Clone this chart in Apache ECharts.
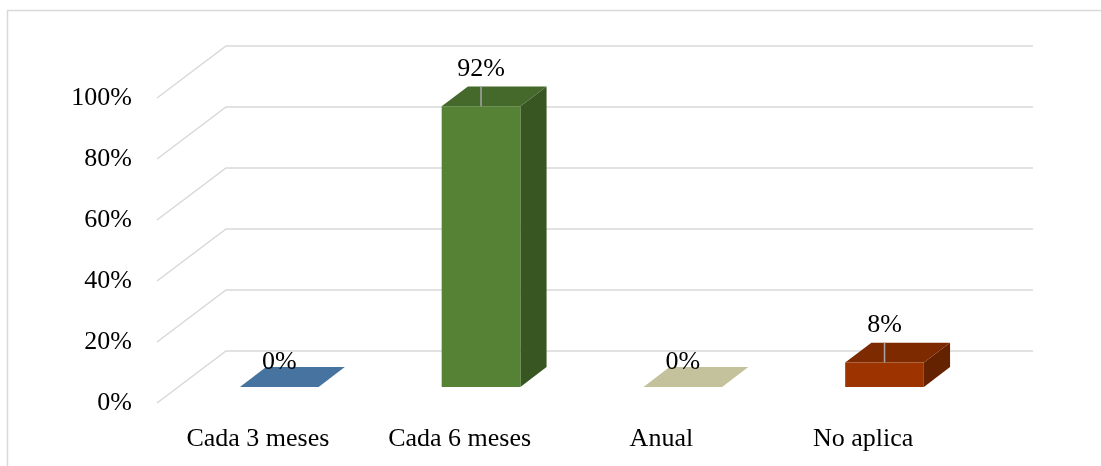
<!DOCTYPE html>
<html>
<head>
<meta charset="utf-8">
<style>
  html, body { margin: 0; padding: 0; background: #ffffff; }
  #chart { width: 1101px; height: 466px; }
</style>
<script src="https://cdn.jsdelivr.net/npm/echarts@6/dist/echarts.min.js"></script>
</head>
<body>
<div id="chart"></div>
<script>
// Frequency categories and their shares (percent)
const categories = ['Cada 3 meses', 'Cada 6 meses', 'Anual', 'No aplica'];
const percentages = [0, 92, 0, 8];
const yTicks = [0, 20, 40, 60, 80, 100];

// Face colours of each 3D column: front, top and right side
const frontColors = ['#4a78a3', '#558235', '#c6c5a1', '#9d3400'];
const topColors   = ['#4673a0', '#44692b', '#c3c29d', '#7e2a00'];
const sideColors  = ['#355a7e', '#385622', '#a3a282', '#652200'];

// 3D projection: floor depth vector (front edge -> back wall) and column placement
const DEPTH = [69, -52];
const BAR_FRONT = 0.31;   // fraction of depth where the column front face sits
const BAR_BACK = 0.69;    // fraction of depth where the column back face sits
const BAR_WIDTH = 0.39;   // fraction of category band
const FONT = '"Liberation Serif", "Times New Roman", serif';
const FONT_SIZE = 26;

const chart = echarts.init(document.getElementById('chart'), null, { renderer: 'canvas' });

function gridRender(params, api) {
  const cs = params.coordSys;
  const y = api.coord([0, api.value(0)])[1];
  const x0 = cs.x, x1 = cs.x + cs.width;
  return {
    type: 'polyline',
    shape: { points: [[x0, y], [x0 + DEPTH[0], y + DEPTH[1]], [x1 + DEPTH[0], y + DEPTH[1]]] },
    style: { stroke: '#d9d9d9', lineWidth: 1.5, fill: null },
    silent: true
  };
}

function barRender(params, api) {
  const i = api.value(0);
  const v = api.value(1);
  const base = api.coord([i, 0]);
  const top = api.coord([i, v]);
  const hw = api.size([1, 0])[0] * BAR_WIDTH / 2;
  const fx = DEPTH[0] * BAR_FRONT, fy = DEPTH[1] * BAR_FRONT;
  const dx = DEPTH[0] * (BAR_BACK - BAR_FRONT), dy = DEPTH[1] * (BAR_BACK - BAR_FRONT);
  const cx = base[0] + fx;
  const by = base[1] + fy;
  const ty = top[1] + fy;
  const L = cx - hw, R = cx + hw;
  const children = [];
  const h = by - ty;
  if (h > 0.5) {
    children.push({
      type: 'polygon',
      shape: { points: [[R, ty], [R + dx, ty + dy], [R + dx, by + dy], [R, by]] },
      style: { fill: sideColors[i] }
    });
  }
  children.push({
    type: 'polygon',
    shape: { points: [[L, ty], [R, ty], [R + dx, ty + dy], [L + dx, ty + dy]] },
    style: { fill: topColors[i] }
  });
  if (h > 0.5) {
    children.push({
      type: 'rect',
      shape: { x: L, y: ty, width: 2 * hw, height: h },
      style: { fill: frontColors[i] }
    });
    // leader line from the value label to the column top
    children.push({
      type: 'line',
      shape: { x1: cx, y1: ty - 20, x2: cx, y2: ty },
      style: { stroke: '#a6a6a6', lineWidth: 1.5 }
    });
  }
  children.push({
    type: 'text',
    style: {
      text: v + '%',
      x: cx,
      y: ty - (h > 0.5 ? 37 : 24.5),
      align: 'center',
      verticalAlign: 'middle',
      fill: '#000000',
      fontSize: FONT_SIZE,
      fontFamily: FONT
    }
  });
  return { type: 'group', children: children };
}

chart.setOption({
  backgroundColor: '#ffffff',
  animation: false,
  graphic: [{
    type: 'rect',
    shape: { x: 7.5, y: 10.5, width: 2000, height: 1000 },
    style: { fill: null, stroke: '#d9d9d9', lineWidth: 1.5 },
    silent: true,
    z: -10
  }],
  grid: { left: 157, right: 137, top: 98, bottom: 63, containLabel: false },
  xAxis: {
    type: 'category',
    data: categories,
    axisLine: { show: false },
    axisTick: { show: false },
    splitLine: { show: false },
    axisLabel: {
      interval: 0,
      margin: 23,
      color: '#000000',
      fontSize: FONT_SIZE,
      fontFamily: FONT
    }
  },
  yAxis: {
    type: 'value',
    min: 0,
    max: 100,
    interval: 20,
    axisLine: { show: false },
    axisTick: { show: false },
    splitLine: { show: false },
    axisLabel: {
      formatter: '{value}%',
      margin: 25,
      padding: [5, 0, 0, 0],
      color: '#000000',
      fontSize: FONT_SIZE,
      fontFamily: FONT
    }
  },
  series: [
    {
      type: 'custom',
      name: 'grid',
      renderItem: gridRender,
      data: yTicks.map(function (t) { return [t]; }),
      encode: { y: 0 },
      silent: true,
      z: 1
    },
    {
      type: 'custom',
      name: 'Frecuencia',
      renderItem: barRender,
      data: percentages.map(function (v, i) { return [i, v]; }),
      encode: { x: 0, y: 1 },
      z: 2
    }
  ]
});
</script>
</body>
</html>
